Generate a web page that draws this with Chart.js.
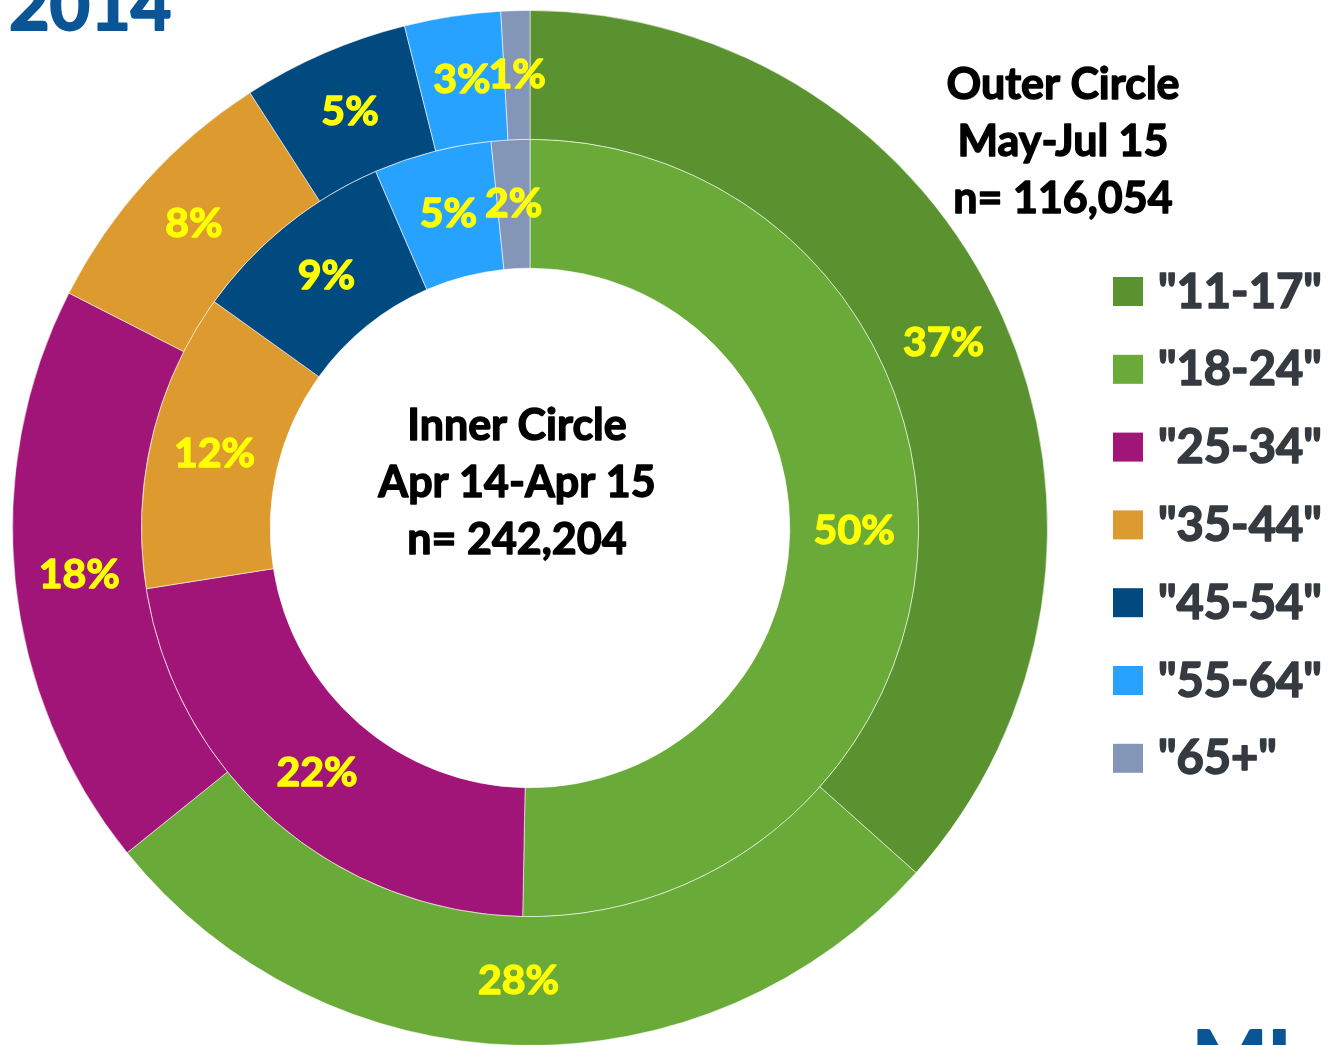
<!DOCTYPE html>
<html>
<head>
<meta charset="utf-8">
<script src="https://cdn.jsdelivr.net/npm/chart.js@4"></script>
<style>
html,body{margin:0;padding:0;background:#fff;overflow:hidden;}
#wrap{position:absolute;left:0;top:0;width:1330px;height:1046px;}
</style>
</head>
<body>
<div id="wrap"><canvas id="c" width="1330" height="1046"></canvas></div>
<script>
const categories = ['"11-17"', '"18-24"', '"25-34"', '"35-44"', '"45-54"', '"55-64"', '"65+"'];
const outerValues = [36.6, 27.6, 18.3, 8.4, 5.2, 3.0, 0.9];   // May-Jul 15 (%)
const innerValues = [0, 50.3, 22.2, 12.4, 8.6, 4.9, 1.6];     // Apr 14-Apr 15 (%)
const colors = ['#5b9230', '#6aaa38', '#a01577', '#dd9a2e', '#004a80', '#27a2ff', '#8496b8'];
const outerTitle = ['Outer Circle', 'May-Jul 15', 'n= 116,054'];
const innerTitle = ['Inner Circle', 'Apr 14-Apr 15', 'n= 242,204'];
const FONT = "Lato, 'Liberation Sans', sans-serif";

function heavyText(ctx, t, x, y, color, lw) {
  ctx.fillStyle = color;
  ctx.strokeStyle = color;
  ctx.lineWidth = lw;
  ctx.lineJoin = 'round';
  ctx.strokeText(t, x, y);
  ctx.fillText(t, x, y);
}

const labelsPlugin = {
  id: 'pctLabels',
  afterDatasetsDraw(chart) {
    const ctx = chart.ctx;
    ctx.save();
    ctx.font = 'bold 41px ' + FONT;
    ctx.textAlign = 'center';
    ctx.textBaseline = 'middle';
    chart.data.datasets.forEach((ds, di) => {
      const meta = chart.getDatasetMeta(di);
      meta.data.forEach((arc, i) => {
        const v = ds.data[i];
        if (!v) return;
        const p = arc.tooltipPosition();
        heavyText(ctx, Math.round(v) + '%', p.x, p.y, '#ffff00', 1.4);
      });
    });
    ctx.restore();
  }
};

const decorPlugin = {
  id: 'decor',
  afterDraw(chart) {
    const ctx = chart.ctx;
    const meta = chart.getDatasetMeta(0);
    const cx = meta.data[0].x, cy = meta.data[0].y;
    ctx.save();
    ctx.font = 'bold 43px ' + FONT;
    ctx.textAlign = 'center';
    ctx.textBaseline = 'middle';
    innerTitle.forEach((t, i) => heavyText(ctx, t, cx - 13, cy - 102 + i * 57, '#000', 1.4));
    outerTitle.forEach((t, i) => heavyText(ctx, t, 1063, 85 + i * 57, '#000', 1.4));
    ctx.textAlign = 'left';
    ctx.textBaseline = 'alphabetic';
    ctx.font = 'bold 47px ' + FONT;
    categories.forEach((c, i) => {
      const yc = 291.5 + i * 77.8;
      ctx.fillStyle = colors[i];
      ctx.fillRect(1113, yc - 14.5, 30, 29);
      heavyText(ctx, c, 1158, yc + 16, '#343a40', 1.6);
    });
    ctx.font = 'bold 70px ' + FONT;
    heavyText(ctx, '2014', 9, 30, '#0a5596', 2);
    ctx.font = 'bold 80px ' + FONT;
    heavyText(ctx, 'MI', 1192, 1088, '#0a5596', 2);
    ctx.restore();
  }
};

new Chart(document.getElementById('c'), {
  type: 'doughnut',
  data: {
    labels: categories,
    datasets: [
      { label: 'May-Jul 15', data: outerValues, backgroundColor: colors, borderColor: 'rgba(255,255,255,0.55)', borderWidth: 1 },
      { label: 'Apr 14-Apr 15', data: innerValues, backgroundColor: colors, borderColor: 'rgba(255,255,255,0.55)', borderWidth: 1 }
    ]
  },
  options: {
    responsive: false,
    animation: false,
    cutout: '50.2%',
    layout: { padding: { left: 12, top: 10, right: 282, bottom: 0 } },
    plugins: { legend: { display: false }, tooltip: { enabled: false } }
  },
  plugins: [labelsPlugin, decorPlugin]
});
</script>
</body>
</html>
